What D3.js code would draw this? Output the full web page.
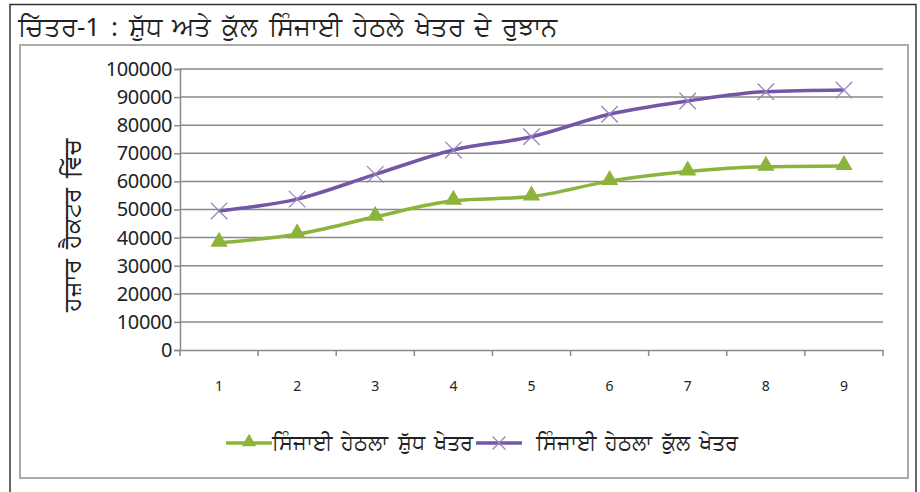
<!DOCTYPE html>
<html>
<head>
<meta charset="utf-8">
<script src="https://cdn.jsdelivr.net/npm/d3@7.9.0/dist/d3.min.js"></script>
<style>
  body { margin: 0; background: #fff; }
  svg { display: block; }
  text { font-family: "Noto Sans", "DejaVu Sans", sans-serif; fill: #222; }
</style>
</head>
<body>
<svg id="chart" width="920" height="492"></svg>
<script>
// data
const years = ['1', '2', '3', '4', '5', '6', '7', '8', '9'];
const netArea = [38200, 41200, 47400, 53100, 54600, 60100, 63500, 65200, 65500];
const grossArea = [49500, 53700, 62500, 71200, 75900, 83900, 88600, 91900, 92500];
const yTicks = [0, 10000, 20000, 30000, 40000, 50000, 60000, 70000, 80000, 90000, 100000];
const titleText = 'ਚਿੱਤਰ-1 : ਸ਼ੁੱਧ ਅਤੇ ਕੁੱਲ ਸਿੰਜਾਈ ਹੇਠਲੇ ਖੇਤਰ ਦੇ ਰੁਝਾਨ';
const yLabel = 'ਹਜ਼ਾਰ ਹੈਕਟਰ ਵਿੱਚ';
const seriesNames = ['ਸਿੰਜਾਈ ਹੇਠਲਾ ਸ਼ੁੱਧ ਖੇਤਰ', 'ਸਿੰਜਾਈ ਹੇਠਲਾ ਕੁੱਲ ਖੇਤਰ'];

const green = '#8cb33c';
const purple = '#7356a6';

const svg = d3.select('#chart');

// outer frame + inner chart frame
svg.append('rect').attr('x', 10).attr('y', 4.5).attr('width', 906).attr('height', 500)
  .attr('fill', 'none').attr('stroke', '#333').attr('stroke-width', 1.5);
svg.append('rect').attr('x', 20).attr('y', 45).attr('width', 888).attr('height', 433)
  .attr('fill', 'none').attr('stroke', '#aaa').attr('stroke-width', 2);

svg.append('text').attr('x', 18).attr('y', 36)
  .attr('font-size', 26).attr('word-spacing', 4).text(titleText);

const plotL = 180, plotR = 883, plotT = 69, plotB = 350;

const x = d3.scaleBand().domain(years).range([plotL, plotR]);
const y = d3.scaleLinear().domain([0, 100000]).range([plotB, plotT]);

// gridlines
svg.append('g').selectAll('line').data(yTicks.slice(1)).join('line')
  .attr('x1', plotL).attr('x2', plotR)
  .attr('y1', d => y(d)).attr('y2', d => y(d))
  .attr('stroke', '#8a8a8a').attr('stroke-width', 1.5);

// y axis
const yAxis = svg.append('g').attr('transform', `translate(${plotL},0)`)
  .call(d3.axisLeft(y).tickValues(yTicks).tickSize(6).tickPadding(2).tickFormat(d3.format('d')));
yAxis.select('.domain').attr('stroke', '#8a8a8a').attr('stroke-width', 1.5);
yAxis.selectAll('line').attr('stroke', '#8a8a8a').attr('stroke-width', 1.5);
yAxis.selectAll('text').attr('font-size', 20).attr('fill', '#222').attr('letter-spacing', -0.4)
  .attr('font-family', '"Open Sans", "Noto Sans", sans-serif');

// x axis
const xAxis = svg.append('g').attr('transform', `translate(0,${plotB})`)
  .call(d3.axisBottom(x).tickSize(0).tickPadding(31));
xAxis.select('.domain').attr('stroke', '#8a8a8a').attr('stroke-width', 1.5);
xAxis.selectAll('text').attr('font-size', 14).attr('fill', '#333')
  .attr('font-family', '"Liberation Sans", sans-serif');
// boundary tick marks between categories
xAxis.append('g').selectAll('line')
  .data(years.map(d => x(d)).concat([plotR])).join('line')
  .attr('x1', d => d).attr('x2', d => d).attr('y1', 0).attr('y2', 6)
  .attr('stroke', '#8a8a8a').attr('stroke-width', 1.5);

// y axis title
svg.append('text')
  .attr('transform', `translate(80,${(plotT + plotB) / 2 + 16}) rotate(-90)`)
  .attr('text-anchor', 'middle').attr('font-size', 24).attr('word-spacing', 4).text(yLabel);

const cx = d => x(d) + x.bandwidth() / 2;
const line = d3.line().x(d => cx(d[0])).y(d => y(d[1])).curve(d3.curveMonotoneX);

const netPts = years.map((d, i) => [d, netArea[i]]);
const grossPts = years.map((d, i) => [d, grossArea[i]]);

svg.append('path').datum(grossPts).attr('d', line)
  .attr('fill', 'none').attr('stroke', purple).attr('stroke-width', 3.5);
svg.append('path').datum(netPts).attr('d', line)
  .attr('fill', 'none').attr('stroke', green).attr('stroke-width', 3.5);

const tri = d3.symbol().type(d3.symbolTriangle).size(130);
const cross = d3.symbol().type(d3.symbolX).size(180);

svg.append('g').selectAll('path').data(grossPts).join('path')
  .attr('transform', d => `translate(${cx(d[0])},${y(d[1])})`)
  .attr('d', cross).attr('fill', 'none').attr('stroke', '#9585bf').attr('stroke-width', 1.3);
svg.append('g').selectAll('path').data(netPts).join('path')
  .attr('transform', d => `translate(${cx(d[0])},${y(d[1]) - 1})`)
  .attr('d', tri).attr('fill', green);

// legend
const lg = svg.append('g').attr('transform', 'translate(0,443)');
lg.append('line').attr('x1', 226).attr('x2', 272).attr('y1', 0).attr('y2', 0)
  .attr('stroke', green).attr('stroke-width', 3.5);
lg.append('path').attr('transform', 'translate(249,-1)').attr('d', d3.symbol().type(d3.symbolTriangle).size(90)).attr('fill', green);
lg.append('text').attr('x', 272).attr('y', 7).attr('font-size', 21).attr('word-spacing', 4).text(seriesNames[0]);
lg.append('line').attr('x1', 476).attr('x2', 522).attr('y1', 0).attr('y2', 0)
  .attr('stroke', purple).attr('stroke-width', 3.5);
lg.append('path').attr('transform', 'translate(499,0)').attr('d', d3.symbol().type(d3.symbolX).size(110))
  .attr('fill', 'none').attr('stroke', '#9585bf').attr('stroke-width', 1.3);
lg.append('text').attr('x', 536).attr('y', 7).attr('font-size', 21).attr('word-spacing', 4).text(seriesNames[1]);
</script>
</body>
</html>
